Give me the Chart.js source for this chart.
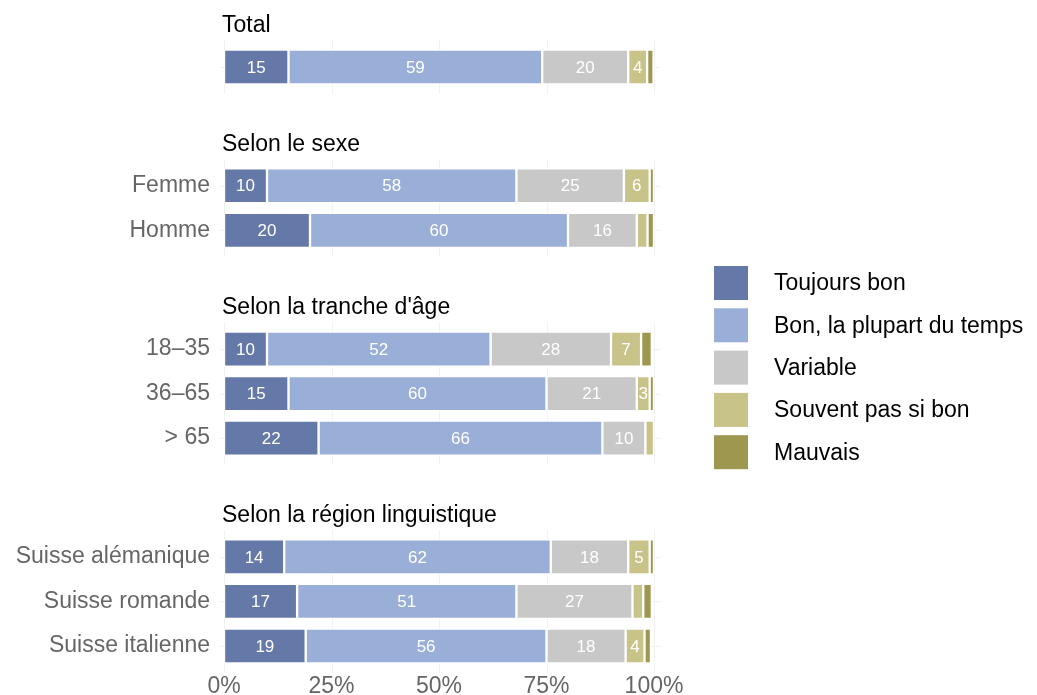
<!DOCTYPE html>
<html>
<head>
<meta charset="utf-8">
<script src="https://cdn.jsdelivr.net/npm/chart.js@4/dist/chart.umd.min.js"></script>
<style>
  body { margin: 0; background: #fff; }
  #wrap { width: 1037px; height: 695px; position: relative; }
</style>
</head>
<body>
<div id="wrap"><canvas id="chart"></canvas></div>
<script>
// groups (facet titles) and the rows in each
const groupTitles = ['Total', 'Selon le sexe', "Selon la tranche d'âge", 'Selon la région linguistique'];
const rowLabels = ['', 'Femme', 'Homme', '18–35', '36–65', '> 65', 'Suisse alémanique', 'Suisse romande', 'Suisse italienne'];
const rowGroup = [0, 1, 1, 2, 2, 2, 3, 3, 3];

// answer categories
const seriesNames = ['Toujours bon', 'Bon, la plupart du temps', 'Variable', 'Souvent pas si bon', 'Mauvais'];
const seriesColors = ['#6479a8', '#9aafd7', '#c8c8c8', '#c8c388', '#9e9750'];

// shares in %, one value per row
const toujoursBon = [15, 10, 20, 10, 15, 22, 14, 17, 19];
const bonPlupart  = [59, 58, 60, 52, 60, 66, 62, 51, 56];
const variable    = [20, 25, 16, 28, 21, 10, 18, 27, 18.4];
const souventPas  = [4.4, 6, 2.5, 7, 3, 2, 5, 2.5, 4.4];
const mauvais     = [1.5, 1, 1.5, 2.5, 1, 0, 1, 2, 1.5];

const xTicks = [0, 25, 50, 75, 100];

const FONT = "'Liberation Sans', Arial, Helvetica, sans-serif";

// lay rows out on a fine category axis: 3 slots per row, 8 between groups
const rowPos = [];
let pos = 0;
for (let i = 0; i < rowLabels.length; i++) {
  if (i > 0) pos += (rowGroup[i] !== rowGroup[i - 1]) ? 8 : 3;
  rowPos.push(pos);
}
const nSlots = pos + 1;
const labels = new Array(nSlots).fill('');
rowPos.forEach((p, i) => labels[p] = rowLabels[i]);

function spread(values) {
  const arr = new Array(nSlots).fill(null);
  rowPos.forEach((p, i) => arr[p] = values[i]);
  return arr;
}

const allSeries = [toujoursBon, bonPlupart, variable, souventPas, mauvais];
const datasets = allSeries.map((vals, k) => ({
  label: seriesNames[k],
  data: spread(vals),
  backgroundColor: seriesColors[k],
  borderColor: '#ffffff',
  borderWidth: 1.5,
  borderSkipped: false,
  barThickness: 35,
  clip: false
}));

// faint grid, only inside each group
const gridPlugin = {
  id: 'groupGrid',
  beforeDatasetsDraw(chart) {
    const ctx = chart.ctx, xs = chart.scales.x, ys = chart.scales.y;
    const step = ys.getPixelForValue(3) - ys.getPixelForValue(0);
    ctx.save();
    ctx.strokeStyle = '#f1f1f1';
    ctx.lineWidth = 1;
    groupTitles.forEach((t, g) => {
      const idx = rowGroup.map((gg, i) => gg === g ? i : -1).filter(i => i >= 0);
      const y0 = ys.getPixelForValue(rowPos[idx[0]]) - step * 0.6;
      const y1 = ys.getPixelForValue(rowPos[idx[idx.length - 1]]) + step * 0.6;
      xTicks.forEach(v => {
        const x = Math.round(xs.getPixelForValue(v)) + 0.5;
        ctx.beginPath(); ctx.moveTo(x, y0); ctx.lineTo(x, y1); ctx.stroke();
      });
      idx.forEach(i => {
        const y = Math.round(ys.getPixelForValue(rowPos[i])) + 0.5;
        ctx.beginPath(); ctx.moveTo(xs.getPixelForValue(-1), y); ctx.lineTo(xs.getPixelForValue(101.5), y); ctx.stroke();
      });
    });
    ctx.restore();
  }
};

// numbers in the bars, group titles, legend
const textPlugin = {
  id: 'texts',
  afterDatasetsDraw(chart) {
    const ctx = chart.ctx, ys = chart.scales.y;
    ctx.save();
    ctx.textAlign = 'center';
    ctx.textBaseline = 'middle';
    ctx.fillStyle = '#ffffff';
    ctx.font = '17px ' + FONT;
    chart.data.datasets.forEach((ds, k) => {
      const meta = chart.getDatasetMeta(k);
      meta.data.forEach((bar, j) => {
        const v = ds.data[j];
        if (v === null || v < 3) return;
        const p = bar.getProps(['x', 'base', 'y'], true);
        ctx.fillText(Math.round(v), (p.x + p.base) / 2, p.y + 1);
      });
    });

    // group titles
    ctx.textAlign = 'left';
    ctx.fillStyle = '#000000';
    ctx.font = '23px ' + FONT;
    groupTitles.forEach((t, g) => {
      const first = rowGroup.indexOf(g);
      ctx.fillText(t, 222, ys.getPixelForValue(rowPos[first]) - 41);
    });

    // legend
    seriesNames.forEach((name, k) => {
      const cy = 283 + k * 42.3;
      ctx.fillStyle = seriesColors[k];
      ctx.fillRect(714, cy - 17, 34, 34);
      ctx.fillStyle = '#000000';
      ctx.fillText(name, 774, cy + 1);
    });
    ctx.restore();
  }
};

new Chart(document.getElementById('chart'), {
  type: 'bar',
  data: { labels: labels, datasets: datasets },
  options: {
    indexAxis: 'y',
    responsive: true,
    maintainAspectRatio: false,
    animation: false,
    layout: { padding: { top: 59.6, right: 383, left: 0, bottom: 0 } },
    plugins: { legend: { display: false }, tooltip: { enabled: false } },
    scales: {
      x: {
        stacked: true,
        min: 0,
        max: 100,
        grid: { display: false },
        border: { display: false },
        afterBuildTicks: s => { s.ticks = xTicks.map(v => ({ value: v })); },
        afterFit: s => { s.height = 41.6; },
        ticks: { color: '#666666', font: { size: 23, family: FONT }, padding: 11, callback: v => v + '%', maxRotation: 0 }
      },
      y: {
        stacked: true,
        grid: { display: false },
        border: { display: false },
        afterFit: s => { s.width = 224; },
        ticks: { color: '#666666', font: { size: 23, family: FONT }, padding: 6, autoSkip: false }
      }
    }
  },
  plugins: [gridPlugin, textPlugin]
});
</script>
</body>
</html>
